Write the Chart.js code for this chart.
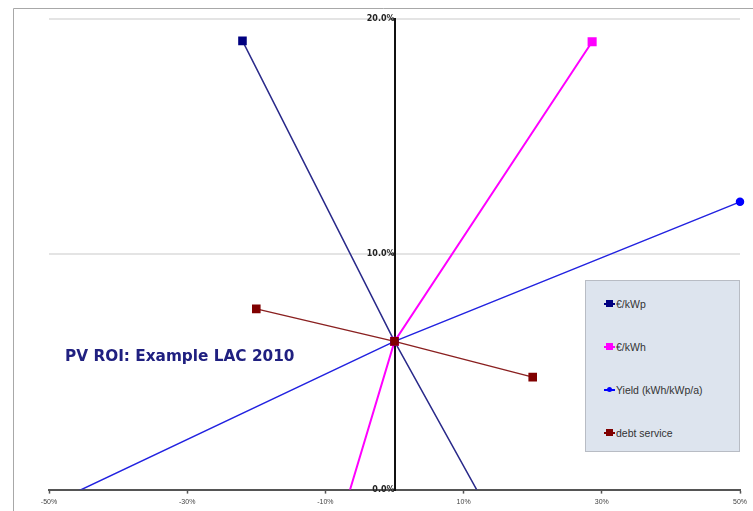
<!DOCTYPE html>
<html>
<head>
<meta charset="utf-8">
<script src="https://cdn.jsdelivr.net/npm/chart.js@4.4.0/dist/chart.umd.min.js"></script>
<style>
body{margin:0;background:#fff;}
#wrap{position:relative;width:753px;height:511px;}
#title{position:absolute;left:65px;top:347px;font:bold 15.3px "DejaVu Sans",Verdana,sans-serif;color:#202080;white-space:nowrap;}
#legend{position:absolute;left:585px;top:280px;width:155px;height:172px;background:#dde4ee;border:1px solid #b8bcc4;box-sizing:border-box;padding-top:15px;}
.item{height:43px;display:flex;align-items:flex-start;padding-left:18px;font:10.5px "Liberation Sans",Arial,sans-serif;color:#333;line-height:16px;}
.mk{position:relative;display:inline-block;width:11px;height:16px;margin-right:1px;}
.mk .ln{position:absolute;left:0;right:0;top:7px;height:2px;}
.mk .pt{position:absolute;left:2px;top:4px;width:7px;height:7px;}
</style>
</head>
<body>
<div id="wrap">
  <canvas id="roi" width="753" height="511"></canvas>
  <div id="title">PV ROI: Example LAC 2010</div>
  <div id="legend"></div>
</div>
<script>
// sensitivity lines: change of parameter (%) -> ROI (%)
const seriesNames = ['€/kWp', '€/kWh', 'Yield (kWh/kWp/a)', 'debt service'];
const kwpX = [-22.0, 0, 20];
const kwpY = [19.07, 6.3, -4.3];
const kwhX = [-10, 0, 28.6];
const kwhY = [-3.5, 6.3, 19.03];
const yieldX = [-50, 0, 50];
const yieldY = [-0.65, 6.3, 12.23];
const debtX = [-20, 0, 20];
const debtY = [7.68, 6.3, 4.78];
const xTicks = [-50, -30, -10, 10, 30, 50];
const yTicks = [0, 10, 20];

function pts(xs, ys) {
  return xs.map((x, i) => ({x: x, y: ys[i]}));
}

const colors = ['#000080', '#ff00ff', '#0000ff', '#800000'];
const styles = ['rect', 'rect', 'circle', 'rect'];
const clipBox = {left: 0, top: 8, right: 8, bottom: 0};

var data = {
  datasets: [
    {label: seriesNames[0], data: pts(kwpX, kwpY), borderColor: '#2a2a8a', backgroundColor: colors[0], pointBorderColor: colors[0], pointStyle: 'rect', pointRadius: 5, borderWidth: 1.5, order: 4, clip: clipBox},
    {label: seriesNames[1], data: pts(kwhX, kwhY), borderColor: colors[1], backgroundColor: colors[1], pointBorderColor: colors[1], pointStyle: 'rect', pointRadius: 5, borderWidth: 2, order: 3, clip: clipBox},
    {label: seriesNames[2], data: pts(yieldX, yieldY), borderColor: '#2222e0', backgroundColor: colors[2], pointBorderColor: colors[2], pointStyle: 'circle', pointRadius: 3.5, borderWidth: 1.5, order: 2, clip: clipBox},
    {label: seriesNames[3], data: pts(debtX, debtY), borderColor: '#8a2020', backgroundColor: colors[3], pointBorderColor: colors[3], pointStyle: 'rect', pointRadius: 5, borderWidth: 1.5, order: 1, clip: clipBox}
  ]
};

const framePlugin = {
  id: 'frame',
  beforeDraw(c) {
    const g = c.ctx;
    g.save();
    g.strokeStyle = '#a8a8a8';
    g.lineWidth = 1;
    g.beginPath();
    g.moveTo(13.5, c.height);
    g.lineTo(13.5, 8.5);
    g.lineTo(c.width, 8.5);
    g.stroke();
    g.restore();
  }
};

const roi = document.getElementById('roi');

const chart = new Chart(roi, {
  type: 'scatter',
  data: data,
  plugins: [framePlugin],
  options: {
    responsive: false,
    animation: false,
    showLine: true,
    layout: {padding: {left: 49, right: 13, top: 19, bottom: 1}},
    plugins: {
      legend: {display: false},
      tooltip: {enabled: false}
    },
    scales: {
      x: {
        type: 'linear',
        position: 'bottom',
        min: -50,
        max: 50,
        afterBuildTicks: s => { s.ticks = xTicks.map(v => ({value: v})); },
        border: {color: '#555', width: 2},
        grid: {drawOnChartArea: false, tickLength: 4, tickColor: '#555', tickWidth: 1.5},
        ticks: {
          autoSkip: false,
          maxRotation: 0,
          padding: 4,
          color: '#444',
          font: {family: 'Liberation Sans', size: 7},
          callback: v => v + '%'
        }
      },
      y: {
        type: 'linear',
        position: {x: 0},
        min: 0,
        max: 20,
        afterBuildTicks: s => { s.ticks = yTicks.map(v => ({value: v})); },
        border: {color: '#111', width: 2},
        grid: {
          color: ctx => (ctx.tick && ctx.tick.value === 0) ? 'rgba(0,0,0,0)' : '#e4e4e4',
          lineWidth: 2,
          tickLength: 4,
          tickColor: '#111',
          tickWidth: 1
        },
        ticks: {
          padding: 5,
          color: '#222',
          font: {family: 'DejaVu Sans', size: 8, weight: 'bold'},
          callback: v => v.toFixed(1) + '%'
        }
      }
    }
  }
});

// legend box built from the chart's datasets
const legendBox = document.getElementById('legend');
chart.data.datasets.forEach((ds, i) => {
  const item = document.createElement('div');
  item.className = 'item';
  const mk = document.createElement('span');
  mk.className = 'mk';
  const ln = document.createElement('span');
  ln.className = 'ln';
  ln.style.background = colors[i];
  const pt = document.createElement('span');
  pt.className = 'pt';
  pt.style.background = colors[i];
  if (styles[i] === 'circle') {
    pt.style.borderRadius = '50%';
    pt.style.left = '3px'; pt.style.top = '5px';
    pt.style.width = '5px'; pt.style.height = '5px';
  }
  mk.appendChild(ln);
  mk.appendChild(pt);
  item.appendChild(mk);
  const tx = document.createElement('span');
  tx.textContent = ds.label;
  item.appendChild(tx);
  legendBox.appendChild(item);
});
</script>
</body>
</html>
